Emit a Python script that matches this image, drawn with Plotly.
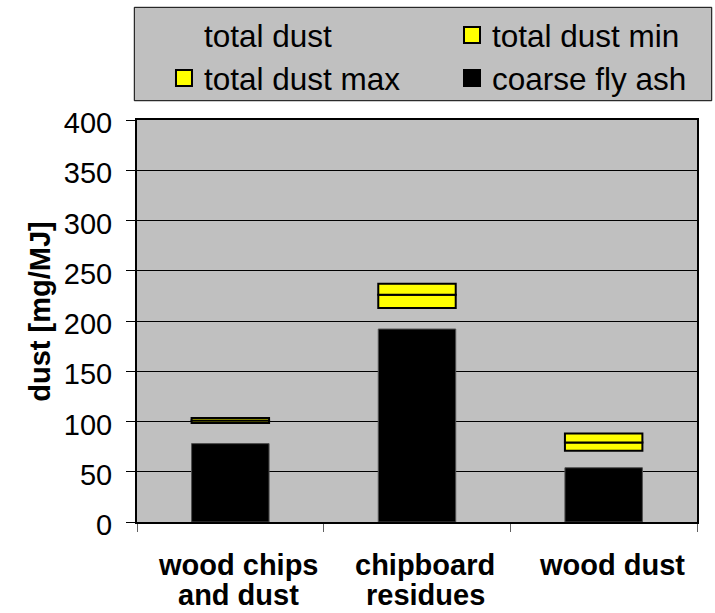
import plotly.graph_objects as go

# values (mg/MJ)
categories = ["wood chips<br>and dust", "chipboard<br>residues", "wood dust"]
coarse_fly_ash = [78, 192, 54]
total_dust_low = [98.5, 213, 71]
total_dust_mid = [101, 226, 79]
total_dust_high = [103.5, 237, 88]
y_ticks = [0, 50, 100, 150, 200, 250, 300, 350, 400]

FONT = "Liberation Sans"
YELLOW = "#ffff00"
GRAY = "#c0c0c0"

fig = go.Figure()

# coarse fly ash, drawn behind the total dust range
fig.add_trace(go.Bar(
    x=categories, y=coarse_fly_ash, name="coarse fly ash",
    marker=dict(color="black", line=dict(color="#505050", width=1)),
    showlegend=False,
))

# total dust: invisible base up to the lower value
fig.add_trace(go.Bar(
    x=categories, y=total_dust_low, name="total dust",
    marker=dict(color="rgba(0,0,0,0)", line=dict(width=0)),
    showlegend=False, hoverinfo="skip",
))

min_seg = [m - lo for m, lo in zip(total_dust_mid, total_dust_low)]
max_seg = [h - m for h, m in zip(total_dust_high, total_dust_mid)]
fig.add_trace(go.Bar(
    x=categories, y=min_seg, base=total_dust_low, name="total dust min",
    marker=dict(color=YELLOW, line=dict(color="black", width=2)),
    showlegend=False,
))
fig.add_trace(go.Bar(
    x=categories, y=max_seg, base=total_dust_mid, name="total dust max",
    marker=dict(color=YELLOW, line=dict(color="black", width=2)),
    showlegend=False,
))

# legend entries: one small legend per entry so the 2x2 grid can be placed freely
legend_items = [
    ("total dust", "rgba(0,0,0,0)", "rgba(0,0,0,0)", "legend"),
    ("total dust min", YELLOW, "black", "legend2"),
    ("total dust max", YELLOW, "black", "legend3"),
    ("coarse fly ash", "black", "black", "legend4"),
]
for name, fill, edge, lg in legend_items:
    fig.add_trace(go.Scatter(
        x=[None], y=[None], mode="markers", name=name, legend=lg,
        marker=dict(symbol="square", size=16, color=fill, line=dict(color=edge, width=2)),
    ))

legend_common = dict(
    xanchor="left", yanchor="middle",
    bgcolor="rgba(0,0,0,0)", borderwidth=0, font=dict(size=31.5),
)
col_x = [0.0482, 0.5625]
row_y = [1.2114, 1.1045]

# category labels: one annotation per text line (tight line spacing)
annotations = []
for cat in categories:
    for i, line in enumerate(cat.split("<br>")):
        annotations.append(dict(
            x=cat, xref="x", y=[-0.107, -0.1806][i], yref="paper",
            text=line, showarrow=False, xanchor="center", yanchor="middle",
            xshift=8, font=dict(size=29, weight="bold"),
        ))
annotations.append(dict(
    x=-0.1732, xref="paper", y=0.523, yref="paper", text="dust [mg/MJ]",
    textangle=-90, showarrow=False, xanchor="center", yanchor="middle",
    font=dict(size=29, weight="bold"),
))

fig.update_layout(
    width=715, height=613,
    barmode="overlay", bargap=0.585,
    plot_bgcolor=GRAY, paper_bgcolor="white",
    font=dict(family=FONT, color="black", size=29),
    margin=dict(l=137, r=18, t=120, b=91, autoexpand=False),
    legend=dict(legend_common, x=col_x[0], y=row_y[0]),
    legend2=dict(legend_common, x=col_x[1], y=row_y[0]),
    legend3=dict(legend_common, x=col_x[0], y=row_y[1]),
    legend4=dict(legend_common, x=col_x[1], y=row_y[1]),
    shapes=[dict(
        type="rect", xref="paper", yref="paper",
        x0=-0.0048, x1=1.0263, y0=1.048, y1=1.2803,
        fillcolor=GRAY, line=dict(color="black", width=1), layer="below",
    )],
    annotations=annotations,
    xaxis=dict(
        type="category", tickson="boundaries", ticks="outside", ticklen=8,
        tickcolor="#606060", showgrid=False, showline=True, linecolor="black",
        linewidth=2, mirror=True, showticklabels=False,
    ),
    yaxis=dict(
        range=[0, 400], tickvals=y_ticks, ticks="outside", ticklen=9,
        tickcolor="black", showgrid=True, gridcolor="black", gridwidth=1,
        zeroline=False, showline=True, linecolor="black", linewidth=2, mirror=True,
        ticklabelstandoff=8, ticklabelshift=3,
    ),
)

# page body has a default 8px margin; drop it so the figure fills the window
fig.write_html(
    "out.html",
    config={"displayModeBar": False},
    post_script="document.body.style.margin = '0';",
)
